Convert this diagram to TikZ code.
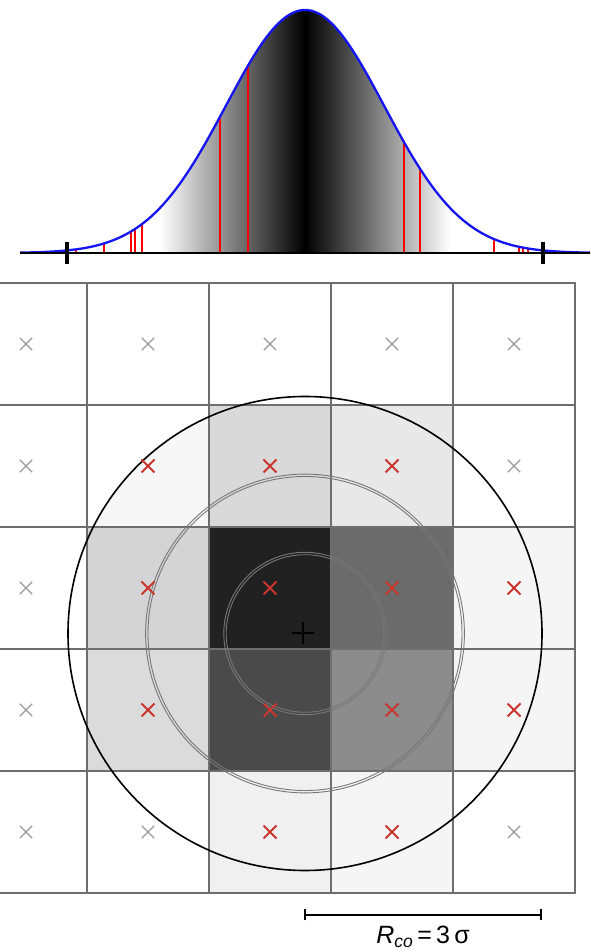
\documentclass[tikz,border=0pt]{standalone}
\usepackage{fontspec}
\setmainfont{Liberation Sans}
\usepackage{tikz}
\usetikzlibrary{arrows.meta, positioning, shapes.misc, calc}
\definecolor{gridgrey}{HTML}{6E6E6E}
\definecolor{markgrey}{HTML}{9A9A9A}
\definecolor{markred}{HTML}{C8372D}
\definecolor{ringgrey}{HTML}{777777}
\definecolor{curveblue}{HTML}{1414F0}
\newcommand{\gaussy}[1]{699+243*exp(-0.5*((#1-305)/79)^2)}

\begin{document}
\begin{tikzpicture}[x=1pt, y=1pt,
    cell/.style={draw=gridgrey, line width=1.6pt},
    ptout/.style={cross out, draw=markgrey, line width=1.3pt, minimum size=11pt, inner sep=0pt},
    ptin/.style={cross out, draw=markred, line width=2pt, minimum size=11pt, inner sep=0pt},
    ring/.style={draw=ringgrey, line width=0.9pt},
    sample/.style={red, line width=1.4pt},
    tick/.style={line width=3.4pt}]
  \useasboundingbox (0,0) rectangle (590,952);

  \begin{scope}
    \clip (20,699) -- plot[domain=20:590, samples=140] (\x,{\gaussy{\x}}) -- (590,699) -- cycle;
    \shade[left color=white, right color=black] (160,699) rectangle (305,945);
    \shade[left color=black, right color=white] (305,699) rectangle (450,945);
  \end{scope}
  \foreach \s in {76,104,131,135,142,220,248,404,420,494,519,523,528}
    \draw[sample] (\s,699) -- (\s,{\gaussy{\s}});
  \draw[curveblue, line width=2.3pt] plot[domain=20:590, samples=140] (\x,{\gaussy{\x}});
  \coordinate (base0) at (20,699);
  \coordinate (base1) at (590,699);
  \draw[line width=1.5pt] (base0) -- (base1);
  \draw[tick] (67,688) -- (67,710);
  \draw[tick] (543,688) -- (543,710);

  \foreach \c/\r/\g in {2/1/15, 3/1/9, 1/2/17, 2/2/87, 3/2/58, 4/2/4,
                        1/3/14, 2/3/71, 3/3/45, 4/3/4, 2/4/6, 3/4/4}
    \fill[black!\g] ({122*\c-35},{669-122*\r}) rectangle ++(122,-122);
  \begin{scope}
    \clip (305,318.5) circle (237);
    \fill[black!3] (87,547) rectangle ++(122,-122);
  \end{scope}
  \foreach \k in {1,...,5}
    \draw[cell] ({122*\k-35},59) -- ++(0,610);
  \foreach \k in {0,...,5}
    \draw[cell] (0,{59+122*\k}) -- (576,{59+122*\k});

  \coordinate (c0) at (305,318.5);
  \draw[black, line width=1.6pt] (c0) circle (237);
  \draw[ring] (c0) circle (157) (c0) circle (159.4);
  \draw[ring] (c0) circle (78.8) (c0) circle (81.2);

  \foreach \r/\c in {0/0,0/1,0/2,0/3,0/4,1/0,1/4,2/0,3/0,4/0,4/1,4/4}
    \node[ptout] (p\r\c) at ({26+122*\c},{608-122*\r}) {};
  \foreach \r/\c in {1/1,1/2,1/3,2/1,2/2,2/3,2/4,3/1,3/2,3/3,3/4,4/2,4/3}
    \node[ptin] (p\r\c) at ({26+122*\c},{608-122*\r}) {};
  \node[cross out, draw=black, line width=1.8pt, rotate=45, minimum size=14pt, inner sep=0pt] (ctr) at (303,319) {};

  \coordinate (barL) at (304,37);
  \coordinate (barR) at (542,37);
  \coordinate (barM) at ($(barL)!0.5!(barR)$);
  \draw[line width=1.7pt, {Bar[width=11pt]}-{Bar[width=11pt]}] (barL) -- (barR);
  \node[below=9pt of barM, inner sep=2pt, font=\fontsize{25}{30}\selectfont] (rco)
    {\textit{R}\textsubscript{\textit{co}}\,=\,3\,σ};
\end{tikzpicture}
\end{document}
